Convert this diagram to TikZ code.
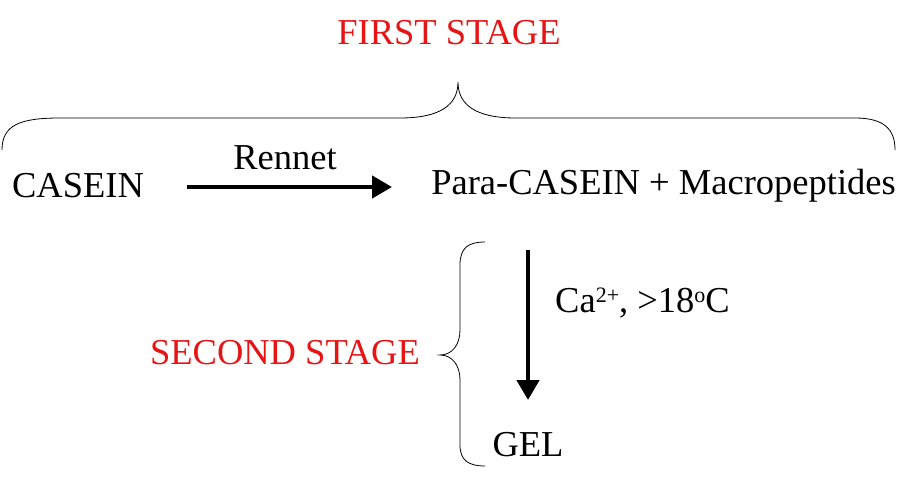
\documentclass[tikz,border=0pt]{standalone}
\usepackage{fontspec}
\setmainfont{Liberation Serif}
\usetikzlibrary{arrows.meta}
\begin{document}
\begin{tikzpicture}[x=1pt,y=-1pt,
  txt/.style={inner sep=0pt,font=\fontsize{36.5}{40}\selectfont},
  red/.style={txt,text={rgb,255:red,230;green,20;blue,20}},
  arr/.style={line width=4.5pt,-{Triangle[length=20pt,width=22pt]}},
  brc/.style={line width=0.8pt}]
\useasboundingbox (0,0) rectangle (907,482);
\node[red] (fs) at (449,33) {FIRST STAGE};
\draw[brc] (2,150) .. controls (2,125) and (20,118) .. (60,118) -- (400,118)
  .. controls (440,118) and (458,105) .. (458,82)
  .. controls (458,105) and (476,118) .. (516,118) -- (855,118)
  .. controls (885,118) and (895,130) .. (895,150);
\node[txt] (casein) at (78,186) {CASEIN};
\node[txt,anchor=east] (para) at (896,186) {Para-CASEIN + Macropeptides};
\coordinate (a1) at (187,187);
\coordinate (a2) at (392,187);
\draw[arr] (a1) -- (a2);
\node[txt] (rennet) at (285,158) {Rennet};
\coordinate (b1) at (528,250);
\coordinate (b2) at (528,400);
\draw[arr] (b1) -- (b2);
\node[txt,anchor=west] (ca) at (555,303) {Ca{\fontsize{22}{22}\selectfont\raisebox{10pt}{2+}}, >18{\fontsize{22}{22}\selectfont\raisebox{10pt}{o}}C};
\node[red] (ss) at (285,353) {SECOND STAGE};
\draw[brc] (485,242) .. controls (468,242) and (460,248) .. (460,265) -- (460,330)
  .. controls (460,345) and (452,355) .. (440,355)
  .. controls (452,355) and (460,365) .. (460,380) -- (460,445)
  .. controls (460,460) and (468,466) .. (485,466);
\node[txt] (gel) at (528,445) {GEL};
\end{tikzpicture}
\end{document}
